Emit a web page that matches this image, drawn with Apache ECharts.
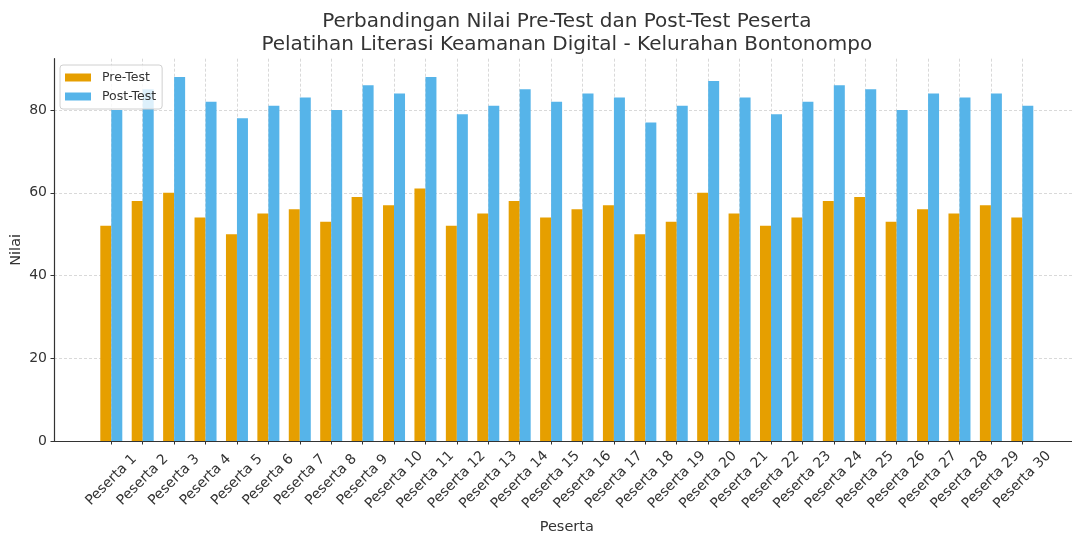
<!DOCTYPE html>
<html>
<head>
<meta charset="UTF-8" />
<title>Perbandingan Nilai Pre-Test dan Post-Test</title>
<script src="https://cdn.jsdelivr.net/npm/echarts@6/dist/echarts.min.js"></script>
<style>
  html, body { margin: 0; padding: 0; background: #fff; }
  #chart { width: 1072px; height: 533px; }
</style>
</head>
<body>
<div id="chart"></div>
<script>
// data
var categories = ['Peserta 1', 'Peserta 2', 'Peserta 3', 'Peserta 4', 'Peserta 5', 'Peserta 6',
  'Peserta 7', 'Peserta 8', 'Peserta 9', 'Peserta 10', 'Peserta 11', 'Peserta 12',
  'Peserta 13', 'Peserta 14', 'Peserta 15', 'Peserta 16', 'Peserta 17', 'Peserta 18',
  'Peserta 19', 'Peserta 20', 'Peserta 21', 'Peserta 22', 'Peserta 23', 'Peserta 24',
  'Peserta 25', 'Peserta 26', 'Peserta 27', 'Peserta 28', 'Peserta 29', 'Peserta 30'];
var preTest = [52, 58, 60, 54, 50, 55, 56, 53, 59, 57, 61, 52, 55, 58, 54,
  56, 57, 50, 53, 60, 55, 52, 54, 58, 59, 53, 56, 55, 57, 54];
var postTest = [80, 85, 88, 82, 78, 81, 83, 80, 86, 84, 88, 79, 81, 85, 82,
  84, 83, 77, 81, 87, 83, 79, 82, 86, 85, 80, 84, 83, 84, 81];
var yTicks = [0, 20, 40, 60, 80];

var titleText = 'Perbandingan Nilai Pre-Test dan Post-Test Peserta\nPelatihan Literasi Keamanan Digital - Kelurahan Bontonompo';

// layout (pixels)
var font = 'DejaVu Sans';
var txt = '#333333';
var gridCol = '#cfcfcf';
var axLeft = 54, axWidth = 1025.6;   // axes runs past the right edge, like the original crop
var axTop = 58.7, axBottomY = 441;
var axHeight = axBottomY - axTop;
var yMax = 92.4;
var firstX = 111.3, lastX = 1022.3;   // centre of first and last group
var tickTop = axBottomY - yTicks[yTicks.length - 1] / yMax * axHeight;

var chart = echarts.init(document.getElementById('chart'), null, { renderer: 'canvas' });

chart.setOption({
  backgroundColor: '#ffffff',
  animation: false,
  textStyle: { fontFamily: font },
  graphic: [{
    type: 'text',
    x: (axLeft + axLeft + axWidth) / 2,
    y: 10,
    style: {
      text: titleText,
      align: 'center',
      verticalAlign: 'top',
      fontFamily: font,
      fontSize: 20,
      lineHeight: 23,
      fill: txt
    }
  }],
  legend: {
    left: 60, top: 65,
    orient: 'vertical',
    data: ['Pre-Test', 'Post-Test'],
    icon: 'rect',
    itemWidth: 26, itemHeight: 8,
    itemGap: 6,
    padding: [6, 6, 6, 5],
    backgroundColor: 'rgba(255,255,255,0.8)',
    borderColor: '#d0d0d0',
    borderWidth: 1,
    borderRadius: 3,
    textStyle: { fontFamily: font, fontSize: 12.5, color: txt, padding: [0, 0, 0, 6] }
  },
  grid: [
    // frame: spines only
    { left: axLeft, top: axTop, width: axWidth, height: axHeight, outerBoundsMode: 'none', containLabel: false },
    // horizontal grid lines, y ticks and labels
    { left: axLeft, top: tickTop, width: axWidth, height: axBottomY - tickTop, outerBoundsMode: 'none', containLabel: false },
    // bars, x ticks and labels
    { left: firstX, top: axTop, width: lastX - firstX, height: axHeight, outerBoundsMode: 'none', containLabel: false }
  ],
  xAxis: [
    { gridIndex: 0, type: 'value', min: 0, max: 1, show: true,
      axisLine: { show: true, onZero: false, lineStyle: { color: txt, width: 1.2 } },
      axisTick: { show: false }, axisLabel: { show: false }, splitLine: { show: false },
      name: 'Peserta', nameLocation: 'middle', nameGap: 79,
      nameTextStyle: { fontFamily: font, fontSize: 14.5, color: txt } },
    { gridIndex: 1, type: 'value', min: 0, max: 1, show: false },
    { gridIndex: 2, type: 'value', min: 0, max: categories.length - 1, interval: 1,
      axisLine: { show: false },
      axisTick: { show: true, length: 3.5, lineStyle: { color: txt, width: 1 } },
      axisLabel: {
        interval: 0, rotate: 45, align: 'center', verticalAlign: 'middle', margin: 39,
        fontFamily: font, fontSize: 14, color: txt,
        formatter: function (v) { return categories[v] || ''; }
      },
      splitLine: { show: true, lineStyle: { color: gridCol, width: 0.8, type: [3, 2] } } }
  ],
  yAxis: [
    { gridIndex: 0, type: 'value', min: 0, max: yMax,
      axisLine: { show: true, onZero: false, lineStyle: { color: txt, width: 1.2 } },
      axisTick: { show: false }, axisLabel: { show: false }, splitLine: { show: false },
      name: 'Nilai', nameLocation: 'middle', nameGap: 30,
      nameTextStyle: { fontFamily: font, fontSize: 14.5, color: txt } },
    { gridIndex: 1, type: 'value', min: yTicks[0], max: yTicks[yTicks.length - 1], interval: 20,
      axisLine: { show: false },
      axisTick: { show: true, length: 3.5, lineStyle: { color: txt, width: 1 } },
      axisLabel: { margin: 7, fontFamily: font, fontSize: 14, color: txt },
      splitLine: { show: true, lineStyle: { color: gridCol, width: 0.8, type: [3, 2] } } },
    { gridIndex: 2, type: 'value', min: 0, max: yMax, show: false }
  ],
  series: [
    { name: 'Pre-Test', type: 'bar', xAxisIndex: 2, yAxisIndex: 2,
      barWidth: 11, barGap: '0%', clip: false,
      itemStyle: { color: '#E69F00' },
      data: preTest.map(function (v, i) { return [i, v]; }) },
    { name: 'Post-Test', type: 'bar', xAxisIndex: 2, yAxisIndex: 2,
      barWidth: 11, barGap: '0%', clip: false,
      itemStyle: { color: '#56B4E9' },
      data: postTest.map(function (v, i) { return [i, v]; }) }
  ]
});
</script>
</body>
</html>
